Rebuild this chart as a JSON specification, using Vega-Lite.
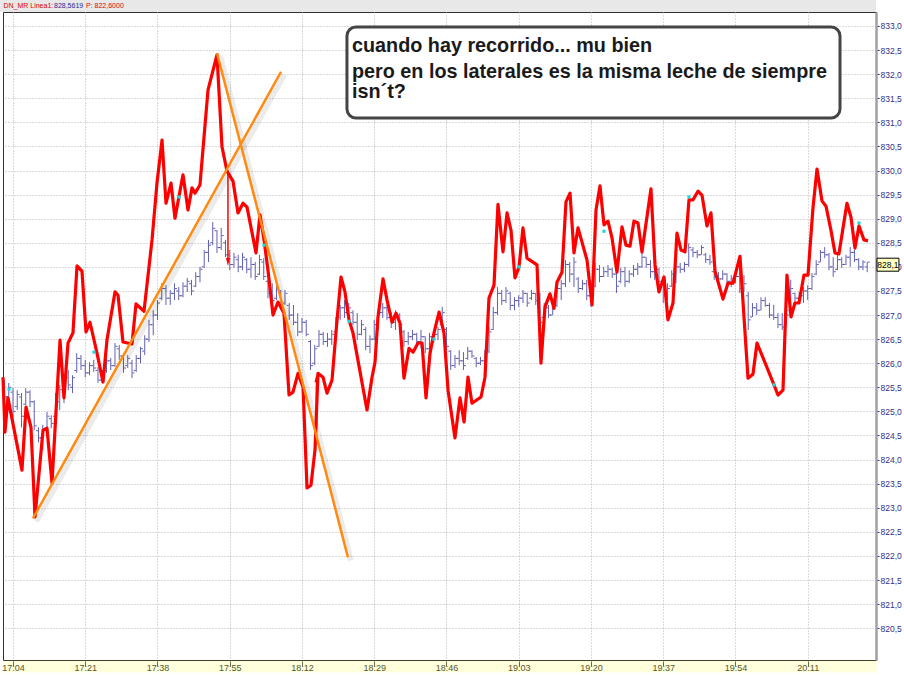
{
"$schema":"https://vega.github.io/schema/vega-lite/v6.json",
"width":873,"height":648,
"autosize":{"type":"none"},
"padding":{"left":3,"top":12,"right":28,"bottom":18},
"background":"#ffffff",
"view":{"stroke":"#303030","strokeWidth":1},
"config":{"font":"Liberation Sans","axis":{"labelOverlap":false,"labelSeparation":0}},
"data":{"format":{"parse":{"t":"date:'%H:%M'"}},"values":[
{"t":"17:02","o":825.5,"h":825.65,"l":825.13,"c":825.3},
{"t":"17:03","o":825.3,"h":825.59,"l":825.23,"c":825.5},
{"t":"17:04","o":825.4,"h":825.48,"l":824.88,"c":825.0},
{"t":"17:05","o":825.1,"h":825.44,"l":825.03,"c":825.35},
{"t":"17:06","o":825.3,"h":825.38,"l":824.67,"c":824.9},
{"t":"17:07","o":825.15,"h":825.48,"l":825.13,"c":825.4},
{"t":"17:08","o":825.4,"h":825.44,"l":825.09,"c":825.2},
{"t":"17:09","o":825.2,"h":825.23,"l":824.61,"c":824.7},
{"t":"17:10","o":824.6,"h":824.67,"l":824.36,"c":824.45},
{"t":"17:11","o":824.45,"h":824.72,"l":824.2,"c":824.6},
{"t":"17:12","o":824.65,"h":824.99,"l":824.61,"c":824.9},
{"t":"17:13","o":824.85,"h":824.92,"l":824.65,"c":824.75},
{"t":"17:14","o":824.9,"h":825.38,"l":824.88,"c":825.3},
{"t":"17:15","o":825.2,"h":825.55,"l":825.03,"c":825.45},
{"t":"17:16","o":825.4,"h":825.8,"l":825.17,"c":825.7},
{"t":"17:17","o":825.7,"h":825.86,"l":825.44,"c":825.55},
{"t":"17:18","o":825.5,"h":825.75,"l":825.38,"c":825.7},
{"t":"17:19","o":825.85,"h":826.21,"l":825.8,"c":826.1},
{"t":"17:20","o":826.1,"h":826.17,"l":825.86,"c":825.95},
{"t":"17:21","o":825.95,"h":826.07,"l":825.71,"c":825.8},
{"t":"17:22","o":825.8,"h":826.02,"l":825.75,"c":825.95},
{"t":"17:23","o":825.95,"h":826.07,"l":825.82,"c":825.9},
{"t":"17:24","o":825.85,"h":825.92,"l":825.59,"c":825.65},
{"t":"17:25","o":825.65,"h":825.86,"l":825.59,"c":825.8},
{"t":"17:26","o":825.85,"h":826.13,"l":825.8,"c":826.05},
{"t":"17:27","o":826.05,"h":826.11,"l":825.86,"c":825.95},
{"t":"17:28","o":825.95,"h":826.42,"l":825.92,"c":826.35},
{"t":"17:29","o":826.3,"h":826.38,"l":826.07,"c":826.15},
{"t":"17:30","o":826.15,"h":826.21,"l":825.8,"c":825.9},
{"t":"17:31","o":825.95,"h":826.17,"l":825.9,"c":826.1},
{"t":"17:32","o":826.0,"h":826.07,"l":825.69,"c":825.8},
{"t":"17:33","o":825.85,"h":826.17,"l":825.82,"c":826.1},
{"t":"17:34","o":826.1,"h":826.34,"l":826.0,"c":826.3},
{"t":"17:35","o":826.25,"h":826.58,"l":826.17,"c":826.5},
{"t":"17:36","o":826.5,"h":826.9,"l":826.44,"c":826.8},
{"t":"17:37","o":826.8,"h":827.1,"l":826.58,"c":827.0},
{"t":"17:38","o":827.0,"h":827.31,"l":826.9,"c":827.25},
{"t":"17:39","o":827.35,"h":827.66,"l":827.31,"c":827.55},
{"t":"17:40","o":827.55,"h":827.62,"l":827.21,"c":827.35},
{"t":"17:41","o":827.35,"h":827.52,"l":827.21,"c":827.45},
{"t":"17:42","o":827.45,"h":827.66,"l":827.31,"c":827.55},
{"t":"17:43","o":827.5,"h":827.58,"l":827.31,"c":827.4},
{"t":"17:44","o":827.4,"h":827.68,"l":827.37,"c":827.6},
{"t":"17:45","o":827.6,"h":827.77,"l":827.48,"c":827.7},
{"t":"17:46","o":827.65,"h":827.73,"l":827.41,"c":827.5},
{"t":"17:47","o":827.6,"h":827.89,"l":827.58,"c":827.8},
{"t":"17:48","o":827.8,"h":828.0,"l":827.68,"c":827.95},
{"t":"17:49","o":828.0,"h":828.35,"l":827.98,"c":828.3},
{"t":"17:50","o":828.3,"h":828.56,"l":828.1,"c":828.45},
{"t":"17:51","o":828.5,"h":828.93,"l":828.45,"c":828.8},
{"t":"17:52","o":828.75,"h":828.76,"l":828.29,"c":828.4},
{"t":"17:53","o":828.4,"h":828.81,"l":828.35,"c":828.65},
{"t":"17:54","o":828.5,"h":828.56,"l":828.2,"c":828.25},
{"t":"17:55","o":828.25,"h":828.35,"l":827.93,"c":828.05},
{"t":"17:56","o":828.05,"h":828.29,"l":827.98,"c":828.2},
{"t":"17:57","o":828.15,"h":828.25,"l":827.89,"c":828.0},
{"t":"17:58","o":828.0,"h":828.29,"l":827.93,"c":828.2},
{"t":"17:59","o":828.15,"h":828.18,"l":827.87,"c":827.95},
{"t":"18:00","o":827.95,"h":828.2,"l":827.77,"c":828.05},
{"t":"18:01","o":828.05,"h":828.1,"l":827.73,"c":827.8},
{"t":"18:02","o":827.85,"h":828.25,"l":827.83,"c":828.15},
{"t":"18:03","o":828.1,"h":828.18,"l":827.73,"c":827.8},
{"t":"18:04","o":827.7,"h":827.73,"l":827.35,"c":827.45},
{"t":"18:05","o":827.45,"h":827.66,"l":827.21,"c":827.3},
{"t":"18:06","o":827.35,"h":827.62,"l":827.31,"c":827.55},
{"t":"18:07","o":827.5,"h":827.52,"l":827.17,"c":827.25},
{"t":"18:08","o":827.25,"h":827.52,"l":827.21,"c":827.45},
{"t":"18:09","o":827.2,"h":827.25,"l":826.9,"c":827.0},
{"t":"18:10","o":827.0,"h":827.21,"l":826.79,"c":826.85},
{"t":"18:11","o":826.85,"h":827.04,"l":826.56,"c":826.65},
{"t":"18:12","o":826.65,"h":826.94,"l":826.63,"c":826.85},
{"t":"18:13","o":826.85,"h":826.9,"l":826.56,"c":826.6},
{"t":"18:14","o":826.45,"h":826.48,"l":825.86,"c":825.95},
{"t":"18:15","o":826.0,"h":826.38,"l":825.96,"c":826.3},
{"t":"18:16","o":826.35,"h":826.69,"l":826.34,"c":826.6},
{"t":"18:17","o":826.6,"h":826.65,"l":826.38,"c":826.45},
{"t":"18:18","o":826.45,"h":826.63,"l":826.34,"c":826.5},
{"t":"18:19","o":826.5,"h":826.69,"l":826.38,"c":826.6},
{"t":"18:20","o":826.65,"h":826.96,"l":826.63,"c":826.9},
{"t":"18:21","o":826.95,"h":827.21,"l":826.9,"c":827.15},
{"t":"18:22","o":827.15,"h":827.31,"l":826.94,"c":827.05},
{"t":"18:23","o":827.05,"h":827.25,"l":826.96,"c":827.15},
{"t":"18:24","o":827.05,"h":827.1,"l":826.79,"c":826.85},
{"t":"18:25","o":826.85,"h":827.04,"l":826.48,"c":826.6},
{"t":"18:26","o":826.6,"h":826.9,"l":826.58,"c":826.8},
{"t":"18:27","o":826.7,"h":826.75,"l":826.27,"c":826.35},
{"t":"18:28","o":826.35,"h":826.58,"l":826.21,"c":826.5},
{"t":"18:29","o":826.5,"h":826.9,"l":826.48,"c":826.8},
{"t":"18:30","o":826.8,"h":827.17,"l":826.69,"c":827.05},
{"t":"18:31","o":827.05,"h":827.25,"l":826.94,"c":827.15},
{"t":"18:32","o":827.15,"h":827.21,"l":826.9,"c":826.95},
{"t":"18:33","o":826.95,"h":827.06,"l":826.73,"c":826.85},
{"t":"18:34","o":826.85,"h":827.1,"l":826.69,"c":827.0},
{"t":"18:35","o":827.0,"h":827.04,"l":826.75,"c":826.8},
{"t":"18:36","o":826.65,"h":826.69,"l":826.34,"c":826.45},
{"t":"18:37","o":826.45,"h":826.65,"l":826.38,"c":826.55},
{"t":"18:38","o":826.55,"h":826.69,"l":826.48,"c":826.6},
{"t":"18:39","o":826.6,"h":826.63,"l":826.34,"c":826.45},
{"t":"18:40","o":826.45,"h":826.69,"l":826.31,"c":826.55},
{"t":"18:41","o":826.55,"h":826.56,"l":826.21,"c":826.3},
{"t":"18:42","o":826.3,"h":826.63,"l":826.27,"c":826.55},
{"t":"18:43","o":826.55,"h":826.69,"l":826.42,"c":826.6},
{"t":"18:44","o":826.6,"h":826.75,"l":826.48,"c":826.7},
{"t":"18:45","o":826.8,"h":827.17,"l":826.75,"c":827.05},
{"t":"18:46","o":826.7,"h":826.75,"l":826.27,"c":826.35},
{"t":"18:47","o":826.25,"h":826.27,"l":825.86,"c":825.95},
{"t":"18:48","o":825.95,"h":826.17,"l":825.9,"c":826.1},
{"t":"18:49","o":826.1,"h":826.27,"l":825.96,"c":826.05},
{"t":"18:50","o":826.05,"h":826.23,"l":825.86,"c":825.95},
{"t":"18:51","o":826.1,"h":826.34,"l":826.07,"c":826.25},
{"t":"18:52","o":826.25,"h":826.27,"l":826.11,"c":826.15},
{"t":"18:53","o":826.1,"h":826.13,"l":825.92,"c":826.0},
{"t":"18:54","o":826.0,"h":826.13,"l":825.96,"c":826.05},
{"t":"18:55","o":826.05,"h":826.27,"l":825.92,"c":826.2},
{"t":"18:56","o":826.25,"h":826.75,"l":826.21,"c":826.65},
{"t":"18:57","o":826.7,"h":827.17,"l":826.69,"c":827.05},
{"t":"18:58","o":827.05,"h":827.58,"l":827.0,"c":827.45},
{"t":"18:59","o":827.45,"h":827.52,"l":827.21,"c":827.3},
{"t":"19:00","o":827.3,"h":827.58,"l":827.25,"c":827.5},
{"t":"19:01","o":827.45,"h":827.48,"l":827.1,"c":827.2},
{"t":"19:02","o":827.2,"h":827.37,"l":827.1,"c":827.3},
{"t":"19:03","o":827.3,"h":827.41,"l":827.17,"c":827.35},
{"t":"19:04","o":827.35,"h":827.52,"l":827.25,"c":827.45},
{"t":"19:05","o":827.45,"h":827.46,"l":827.17,"c":827.25},
{"t":"19:06","o":827.35,"h":827.52,"l":827.31,"c":827.45},
{"t":"19:07","o":827.45,"h":827.46,"l":827.21,"c":827.3},
{"t":"19:08","o":827.3,"h":827.46,"l":826.63,"c":826.85},
{"t":"19:09","o":826.95,"h":827.25,"l":826.9,"c":827.15},
{"t":"19:10","o":827.15,"h":827.21,"l":826.94,"c":827.0},
{"t":"19:11","o":827.0,"h":827.25,"l":827.0,"c":827.2},
{"t":"19:12","o":827.2,"h":827.62,"l":827.17,"c":827.55},
{"t":"19:13","o":827.55,"h":827.73,"l":827.31,"c":827.65},
{"t":"19:14","o":827.65,"h":828.14,"l":827.58,"c":828.05},
{"t":"19:15","o":828.05,"h":828.1,"l":827.68,"c":827.85},
{"t":"19:16","o":827.85,"h":828.2,"l":827.58,"c":828.1},
{"t":"19:17","o":827.75,"h":827.79,"l":827.46,"c":827.55},
{"t":"19:18","o":827.55,"h":827.73,"l":827.52,"c":827.65},
{"t":"19:19","o":827.65,"h":827.73,"l":827.31,"c":827.4},
{"t":"19:20","o":827.4,"h":827.62,"l":827.17,"c":827.5},
{"t":"19:21","o":827.6,"h":828.08,"l":827.58,"c":827.95},
{"t":"19:22","o":827.95,"h":828.04,"l":827.68,"c":827.8},
{"t":"19:23","o":827.8,"h":828.0,"l":827.79,"c":827.9},
{"t":"19:24","o":827.9,"h":828.04,"l":827.79,"c":827.95},
{"t":"19:25","o":827.95,"h":827.98,"l":827.77,"c":827.85},
{"t":"19:26","o":827.85,"h":828.08,"l":827.46,"c":827.6},
{"t":"19:27","o":827.7,"h":827.98,"l":827.66,"c":827.9},
{"t":"19:28","o":827.9,"h":828.0,"l":827.58,"c":827.7},
{"t":"19:29","o":827.7,"h":827.93,"l":827.66,"c":827.85},
{"t":"19:30","o":827.85,"h":828.04,"l":827.79,"c":827.95},
{"t":"19:31","o":827.95,"h":828.08,"l":827.83,"c":828.0},
{"t":"19:32","o":828.0,"h":828.29,"l":827.98,"c":828.2},
{"t":"19:33","o":828.2,"h":828.2,"l":827.98,"c":828.05},
{"t":"19:34","o":828.05,"h":828.14,"l":827.77,"c":827.9},
{"t":"19:35","o":827.9,"h":828.1,"l":827.73,"c":828.0},
{"t":"19:36","o":827.95,"h":827.98,"l":827.62,"c":827.7},
{"t":"19:37","o":827.7,"h":827.73,"l":827.25,"c":827.4},
{"t":"19:38","o":827.4,"h":827.66,"l":827.31,"c":827.55},
{"t":"19:39","o":827.6,"h":827.93,"l":827.58,"c":827.85},
{"t":"19:40","o":827.85,"h":828.14,"l":827.66,"c":828.0},
{"t":"19:41","o":828.0,"h":828.08,"l":827.87,"c":827.95},
{"t":"19:42","o":827.95,"h":828.1,"l":827.89,"c":828.05},
{"t":"19:43","o":828.05,"h":828.49,"l":828.0,"c":828.4},
{"t":"19:44","o":828.35,"h":828.41,"l":828.2,"c":828.3},
{"t":"19:45","o":828.3,"h":828.35,"l":828.18,"c":828.25},
{"t":"19:46","o":828.25,"h":828.45,"l":828.25,"c":828.4},
{"t":"19:47","o":828.25,"h":828.29,"l":828.08,"c":828.15},
{"t":"19:48","o":828.15,"h":828.25,"l":828.04,"c":828.1},
{"t":"19:49","o":827.9,"h":827.93,"l":827.73,"c":827.8},
{"t":"19:50","o":827.8,"h":827.89,"l":827.66,"c":827.75},
{"t":"19:51","o":827.75,"h":827.93,"l":827.73,"c":827.85},
{"t":"19:52","o":827.85,"h":827.87,"l":827.62,"c":827.7},
{"t":"19:53","o":827.7,"h":827.83,"l":827.58,"c":827.75},
{"t":"19:54","o":827.75,"h":827.87,"l":827.66,"c":827.8},
{"t":"19:55","o":827.8,"h":828.08,"l":827.46,"c":827.55},
{"t":"19:56","o":827.55,"h":827.83,"l":827.48,"c":827.65},
{"t":"19:57","o":827.4,"h":827.48,"l":826.69,"c":826.9},
{"t":"19:58","o":826.96,"h":827.25,"l":826.96,"c":827.15},
{"t":"19:59","o":827.15,"h":827.25,"l":827.0,"c":827.1},
{"t":"20:00","o":827.1,"h":827.37,"l":827.1,"c":827.3},
{"t":"20:01","o":827.3,"h":827.37,"l":827.17,"c":827.2},
{"t":"20:02","o":827.2,"h":827.25,"l":826.94,"c":827.0},
{"t":"20:03","o":827.0,"h":827.21,"l":826.9,"c":826.95},
{"t":"20:04","o":826.95,"h":827.04,"l":826.73,"c":826.8},
{"t":"20:05","o":826.8,"h":827.04,"l":826.69,"c":826.75},
{"t":"20:06","o":826.8,"h":827.1,"l":826.79,"c":827.0},
{"t":"20:07","o":827.1,"h":827.73,"l":827.1,"c":827.55},
{"t":"20:08","o":827.45,"h":827.46,"l":827.25,"c":827.35},
{"t":"20:09","o":827.35,"h":827.48,"l":827.27,"c":827.4},
{"t":"20:10","o":827.4,"h":827.58,"l":827.25,"c":827.5},
{"t":"20:11","o":827.5,"h":827.62,"l":827.31,"c":827.55},
{"t":"20:12","o":827.55,"h":827.87,"l":827.52,"c":827.8},
{"t":"20:13","o":827.85,"h":828.14,"l":827.83,"c":828.05},
{"t":"20:14","o":828.1,"h":828.35,"l":828.1,"c":828.3},
{"t":"20:15","o":828.3,"h":828.41,"l":828.18,"c":828.25},
{"t":"20:16","o":828.25,"h":828.29,"l":827.93,"c":828.0},
{"t":"20:17","o":828.0,"h":828.2,"l":827.79,"c":827.9},
{"t":"20:18","o":827.95,"h":828.25,"l":827.93,"c":828.15},
{"t":"20:19","o":828.15,"h":828.2,"l":827.98,"c":828.05},
{"t":"20:20","o":828.05,"h":828.25,"l":828.04,"c":828.2},
{"t":"20:21","o":828.2,"h":828.41,"l":828.0,"c":828.3},
{"t":"20:22","o":828.3,"h":828.35,"l":828.1,"c":828.15},
{"t":"20:23","o":828.15,"h":828.18,"l":827.93,"c":828.0},
{"t":"20:24","o":828.0,"h":828.14,"l":827.93,"c":828.1},
{"t":"20:25","o":828.0,"h":828.1,"l":827.89,"c":828.1}
]},
"layer":[
{"mark":{"type":"rule","color":"#4444a2","strokeWidth":1,"opacity":0.85},
 "encoding":{
  "x":{"field":"t","type":"temporal","scale":{"domain":[{"year":1900,"month":1,"date":1,"hours":17,"minutes":1,"seconds":39},{"year":1900,"month":1,"date":1,"hours":20,"minutes":27,"seconds":4}],"nice":false},
   "axis":{"orient":"bottom","title":null,"format":"%H:%M","offset":6,"domainWidth":12,"domainColor":"#ffff00","domainOpacity":0.14,"domainCap":"butt","tickCount":30,
    "values":[{"year":1900,"month":1,"date":1,"hours":17,"minutes":4},{"year":1900,"month":1,"date":1,"hours":17,"minutes":21},{"year":1900,"month":1,"date":1,"hours":17,"minutes":38},{"year":1900,"month":1,"date":1,"hours":17,"minutes":55},{"year":1900,"month":1,"date":1,"hours":18,"minutes":12},{"year":1900,"month":1,"date":1,"hours":18,"minutes":29},{"year":1900,"month":1,"date":1,"hours":18,"minutes":46},{"year":1900,"month":1,"date":1,"hours":19,"minutes":3},{"year":1900,"month":1,"date":1,"hours":19,"minutes":20},{"year":1900,"month":1,"date":1,"hours":19,"minutes":37},{"year":1900,"month":1,"date":1,"hours":19,"minutes":54},{"year":1900,"month":1,"date":1,"hours":20,"minutes":11}],
    "labelColor":"#383838","labelFontSize":9,"labelPadding":2,"labelFlush":false,"labelOverlap":false,"tickColor":"#505050","tickSize":-5,
    "grid":true,"gridColor":"#b4b4b4","gridDash":[1,2],"gridWidth":1}},
  "y":{"field":"l","type":"quantitative","scale":{"domain":[819.84,833.29],"nice":false,"zero":false},
   "axis":{"orient":"right","title":null,"tickCount":40,"values":[820.5,821.0,821.5,822.0,822.5,823.0,823.5,824.0,824.5,825.0,825.5,826.0,826.5,827.0,827.5,828.0,828.5,829.0,829.5,830.0,830.5,831.0,831.5,832.0,832.5,833.0],
    "labelExpr":"replace(format(datum.value,'.1f'),'.',',')","labelColor":"#30308a","labelFont":"Liberation Sans","labelFontSize":8.5,"labelPadding":1,"labelOverlap":false,"labelBound":false,
    "tickColor":"#30308a","tickSize":3,"domainColor":"#a0a0a0","domainWidth":2.5,
    "grid":true,"gridColor":"#b4b4b4","gridDash":[1,2],"gridWidth":1}},
  "y2":{"field":"h"}}},
{"mark":{"type":"tick","orient":"horizontal","size":2,"thickness":1,"xOffset":-1.5,"color":"#4444a2","opacity":0.85},
 "encoding":{
  "x":{"field":"t","type":"temporal"},
  "y":{"field":"o","type":"quantitative"}}},
{"mark":{"type":"tick","orient":"horizontal","size":2,"thickness":1,"xOffset":1.5,"color":"#4444a2","opacity":0.85},
 "encoding":{
  "x":{"field":"t","type":"temporal"},
  "y":{"field":"c","type":"quantitative"}}},
{"data":{"format":{"parse":{"t":"date:'%H:%M:%S'","t2":"date:'%H:%M:%S'"}},"values":[{"t":"17:00:56","t2":"20:27:04","top":833.54,"bottom":833.29}]},
 "mark":{"type":"rect","fill":"#e8e8e8","clip":false},
 "encoding":{"x":{"field":"t","type":"temporal"},"x2":{"field":"t2"},"y":{"field":"top","type":"quantitative"},"y2":{"field":"bottom"}}},
{"data":{"format":{"parse":{"t":"date:'%H:%M:%S'"}},"values":[
{"t":"17:01:39","p":825.71},{"t":"17:02:07","p":824.57},{"t":"17:02:49","p":825.28},{"t":"17:06:07","p":823.78},{"t":"17:07:04","p":825.09},{"t":"17:08:14","p":824.67},{"t":"17:09:11","p":822.81},{"t":"17:11:04","p":824.61},{"t":"17:12:00","p":824.65},{"t":"17:13:11","p":823.51},{"t":"17:15:04","p":826.48},{"t":"17:16:00","p":825.28},{"t":"17:16:57","p":826.42},{"t":"17:18:07","p":826.63},{"t":"17:19:04","p":828.02},{"t":"17:20:14","p":827.91},{"t":"17:21:11","p":826.65},{"t":"17:22:07","p":826.85},{"t":"17:23:46","p":826.21},{"t":"17:25:11","p":825.61},{"t":"17:26:07","p":826.48},{"t":"17:28:00","p":827.48},{"t":"17:28:43","p":827.41},{"t":"17:29:53","p":826.44},{"t":"17:32:00","p":826.4},{"t":"17:32:57","p":827.23},{"t":"17:34:50","p":827.08},{"t":"17:36:43","p":828.56},{"t":"17:37:53","p":829.74},{"t":"17:39:04","p":830.63},{"t":"17:40:00","p":829.32},{"t":"17:41:11","p":829.74},{"t":"17:42:07","p":829.01},{"t":"17:44:00","p":829.91},{"t":"17:45:11","p":829.18},{"t":"17:46:07","p":829.64},{"t":"17:46:50","p":829.53},{"t":"17:48:00","p":829.7},{"t":"17:49:53","p":831.67},{"t":"17:52:00","p":832.4},{"t":"17:53:11","p":830.49},{"t":"17:54:21","p":829.99},{"t":"17:55:46","p":829.78},{"t":"17:56:57","p":829.12},{"t":"17:58:07","p":829.32},{"t":"17:59:04","p":829.24},{"t":"18:01:11","p":828.29},{"t":"18:02:07","p":829.08},{"t":"18:03:04","p":828.56},{"t":"18:04:00","p":827.93},{"t":"18:05:11","p":827.0},{"t":"18:06:21","p":827.27},{"t":"18:07:46","p":827.04},{"t":"18:08:57","p":825.34},{"t":"18:09:53","p":825.4},{"t":"18:11:04","p":825.79},{"t":"18:12:15","p":825.5},{"t":"18:13:11","p":823.41},{"t":"18:14:07","p":823.47},{"t":"18:15:04","p":824.2},{"t":"18:15:46","p":825.79},{"t":"18:16:57","p":825.71},{"t":"18:17:53","p":825.38},{"t":"18:19:04","p":825.65},{"t":"18:20:15","p":826.9},{"t":"18:21:11","p":827.79},{"t":"18:22:07","p":827.48},{"t":"18:23:04","p":826.9},{"t":"18:24:00","p":826.63},{"t":"18:27:18","p":825.03},{"t":"18:28:29","p":825.71},{"t":"18:29:11","p":826.02},{"t":"18:29:53","p":826.96},{"t":"18:31:04","p":827.75},{"t":"18:32:01","p":827.31},{"t":"18:33:11","p":826.85},{"t":"18:34:07","p":827.04},{"t":"18:35:04","p":826.83},{"t":"18:36:00","p":825.69},{"t":"18:37:11","p":826.31},{"t":"18:38:08","p":826.23},{"t":"18:39:18","p":826.42},{"t":"18:40:15","p":826.42},{"t":"18:41:11","p":825.28},{"t":"18:42:08","p":826.21},{"t":"18:43:04","p":826.63},{"t":"18:44:15","p":827.06},{"t":"18:45:25","p":826.63},{"t":"18:46:22","p":825.44},{"t":"18:48:00","p":824.45},{"t":"18:49:11","p":825.28},{"t":"18:50:08","p":824.78},{"t":"18:51:04","p":825.71},{"t":"18:52:00","p":825.17},{"t":"18:54:08","p":825.3},{"t":"18:55:04","p":825.71},{"t":"18:56:00","p":827.35},{"t":"18:57:11","p":827.62},{"t":"18:58:07","p":829.3},{"t":"18:59:18","p":828.31},{"t":"19:00:15","p":829.12},{"t":"19:01:11","p":828.76},{"t":"19:02:07","p":827.77},{"t":"19:03:04","p":828.0},{"t":"19:04:00","p":828.81},{"t":"19:04:57","p":828.18},{"t":"19:07:18","p":828.04},{"t":"19:08:14","p":826.0},{"t":"19:09:11","p":827.17},{"t":"19:10:21","p":827.44},{"t":"19:11:18","p":827.14},{"t":"19:12:00","p":827.68},{"t":"19:13:11","p":827.89},{"t":"19:14:07","p":829.35},{"t":"19:15:04","p":829.53},{"t":"19:16:00","p":828.29},{"t":"19:16:57","p":828.81},{"t":"19:19:04","p":828.14},{"t":"19:20:15","p":827.21},{"t":"19:21:11","p":829.18},{"t":"19:22:07","p":829.68},{"t":"19:23:04","p":828.87},{"t":"19:24:00","p":828.95},{"t":"19:24:57","p":828.6},{"t":"19:26:07","p":827.89},{"t":"19:27:18","p":828.83},{"t":"19:28:14","p":828.45},{"t":"19:29:11","p":828.43},{"t":"19:30:07","p":828.95},{"t":"19:31:04","p":828.91},{"t":"19:32:00","p":828.31},{"t":"19:34:07","p":829.62},{"t":"19:35:04","p":828.04},{"t":"19:36:00","p":827.48},{"t":"19:37:11","p":827.79},{"t":"19:38:07","p":826.9},{"t":"19:39:18","p":827.25},{"t":"19:40:14","p":828.7},{"t":"19:41:11","p":828.35},{"t":"19:42:07","p":828.31},{"t":"19:43:04","p":829.39},{"t":"19:44:00","p":829.39},{"t":"19:45:11","p":829.57},{"t":"19:46:07","p":829.49},{"t":"19:47:18","p":828.85},{"t":"19:48:14","p":829.12},{"t":"19:49:11","p":827.91},{"t":"19:51:04","p":827.33},{"t":"19:52:14","p":827.66},{"t":"19:53:25","p":827.66},{"t":"19:55:04","p":828.22},{"t":"19:56:57","p":825.69},{"t":"19:58:07","p":825.77},{"t":"19:59:04","p":826.42},{"t":"20:03:04","p":825.55},{"t":"20:04:00","p":825.34},{"t":"20:05:11","p":825.44},{"t":"20:06:07","p":827.83},{"t":"20:07:04","p":826.96},{"t":"20:08:00","p":827.25},{"t":"20:08:57","p":827.25},{"t":"20:10:07","p":827.83},{"t":"20:11:04","p":827.83},{"t":"20:12:14","p":829.22},{"t":"20:13:11","p":830.03},{"t":"20:14:21","p":829.37},{"t":"20:15:18","p":829.26},{"t":"20:16:28","p":828.76},{"t":"20:17:25","p":828.29},{"t":"20:18:21","p":828.27},{"t":"20:20:14","p":829.32},{"t":"20:21:11","p":829.03},{"t":"20:22:07","p":828.39},{"t":"20:23:04","p":828.85},{"t":"20:24:14","p":828.56},{"t":"20:25:11","p":828.54}]},
 "mark":{"type":"line","color":"#ff0000","strokeWidth":3.2,"strokeJoin":"round"},
 "encoding":{
  "x":{"field":"t","type":"temporal"},
  "y":{"field":"p","type":"quantitative"}}},
{"data":{"format":{"parse":{"t":"date:'%H:%M:%S'"}},"values":[
{"t":"17:03:04","p":825.46},{"t":"17:23:04","p":826.23},{"t":"17:43:04","p":829.45},{"t":"18:03:04","p":828.45},{"t":"18:23:04","p":826.87},{"t":"18:43:04","p":826.5},{"t":"19:03:04","p":828.0},{"t":"19:23:04","p":828.74},{"t":"19:43:04","p":829.45},{"t":"20:03:04","p":825.55},{"t":"20:23:04","p":828.91}]},
 "mark":{"type":"square","size":10,"color":"#20d8d8","opacity":1},
 "encoding":{"x":{"field":"t","type":"temporal"},"y":{"field":"p","type":"quantitative"}}},
{"data":{"format":{"parse":{"t":"date:'%H:%M:%S'"}},"values":[
{"line":"soporte","t":"17:08:42","p":822.78},{"line":"soporte","t":"18:07:04","p":832.05},
{"line":"directriz","t":"17:52:00","p":832.44},{"line":"directriz","t":"18:22:49","p":821.97}]},
 "layer":[
  {"mark":{"type":"line","color":"#000000","opacity":0.08,"strokeWidth":6,"xOffset":3,"yOffset":3},
   "encoding":{"x":{"field":"t","type":"temporal"},"y":{"field":"p","type":"quantitative"},"detail":{"field":"line"}}},
  {"mark":{"type":"line","color":"#ff8a10","strokeWidth":2.5},
   "encoding":{"x":{"field":"t","type":"temporal"},"y":{"field":"p","type":"quantitative"},"detail":{"field":"line"}}}
 ]},
{"data":{"format":{"parse":{"t":"date:'%H:%M:%S'"}},"values":[
{"t":"17:54:35","from":829.97,"to":828.1,"dir":"down"},{"t":"18:15:25","from":824.67,"to":825.69,"dir":"up"}]},
 "layer":[
  {"mark":{"type":"rule","color":"#ff0000","strokeWidth":1.5},
   "encoding":{"x":{"field":"t","type":"temporal"},"y":{"field":"from","type":"quantitative"},"y2":{"field":"to"}}},
  {"mark":{"type":"point","filled":true,"color":"#ff0000","opacity":1,"size":64},
   "encoding":{"x":{"field":"t","type":"temporal"},"y":{"field":"to","type":"quantitative"},
    "shape":{"field":"dir","type":"nominal","scale":{"domain":["down","up"],"range":["M-0.5,-1L0.5,-1L0,1Z","M-0.5,1L0.5,1L0,-1Z"]},"legend":null}}}
 ]},
{"data":{"format":{"parse":{"t":"date:'%H:%M:%S'","t2":"date:'%H:%M:%S'"}},"values":[{"t":"18:22:35","t2":"20:18:36","top":832.98,"bottom":831.09}]},
 "mark":{"type":"rect","fill":"#ffffff","stroke":"#454545","strokeWidth":3,"cornerRadius":9},
 "encoding":{"x":{"field":"t","type":"temporal"},"x2":{"field":"t2"},"y":{"field":"top","type":"quantitative"},"y2":{"field":"bottom"}}},
{"data":{"format":{"parse":{"t":"date:'%H:%M:%S'"}},"values":[
{"t":"18:23:46","p":832.46,"txt":"cuando hay recorrido... mu bien"},
{"t":"18:23:46","p":831.92,"txt":"pero en los laterales es la misma leche de siempre"},
{"t":"18:23:46","p":831.5,"txt":"isn´t?"}]},
 "mark":{"type":"text","align":"left","baseline":"alphabetic","font":"Liberation Sans","fontWeight":"bold","fontSize":19.8,"color":"#1a1a1a"},
 "encoding":{"x":{"field":"t","type":"temporal"},"y":{"field":"p","type":"quantitative"},"text":{"field":"txt"}}},
{"data":{"format":{"parse":{"t":"date:'%H:%M:%S'","t2":"date:'%H:%M:%S'"}},"values":[{"t":"20:27:18","t2":"20:32:28","top":828.18,"bottom":827.91}]},
 "mark":{"type":"rect","fill":"#ffffc0","stroke":"#000000","strokeWidth":1,"clip":false},
 "encoding":{"x":{"field":"t","type":"temporal"},"x2":{"field":"t2"},"y":{"field":"top","type":"quantitative"},"y2":{"field":"bottom"}}},
{"data":{"format":{"parse":{"t":"date:'%H:%M:%S'"}},"values":[
{"t":"20:29:53","p":828.045,"txt":"828,1"}]},
 "mark":{"type":"text","clip":false,"align":"center","baseline":"middle","font":"Liberation Sans","fontSize":8.5,"color":"#000000"},
 "encoding":{"x":{"field":"t","type":"temporal"},"y":{"field":"p","type":"quantitative"},"text":{"field":"txt"}}},
{"data":{"format":{"parse":{"t":"date:'%H:%M:%S'"}},"values":[
{"t":"17:01:45","p":833.42,"txt":"DN_MR Linea1:","col":"red"},
{"t":"17:13:39","p":833.42,"txt":"828,5619","col":"blue"},
{"t":"17:21:11","p":833.42,"txt":"P: 822,6000","col":"red"}]},
 "mark":{"type":"text","clip":false,"align":"left","baseline":"middle","font":"Liberation Sans","fontSize":7},
 "encoding":{"x":{"field":"t","type":"temporal"},"y":{"field":"p","type":"quantitative"},"text":{"field":"txt"},
  "color":{"field":"col","type":"nominal","scale":{"domain":["red","blue"],"range":["#e00000","#2a2a9a"]},"legend":null}}}
]
}
